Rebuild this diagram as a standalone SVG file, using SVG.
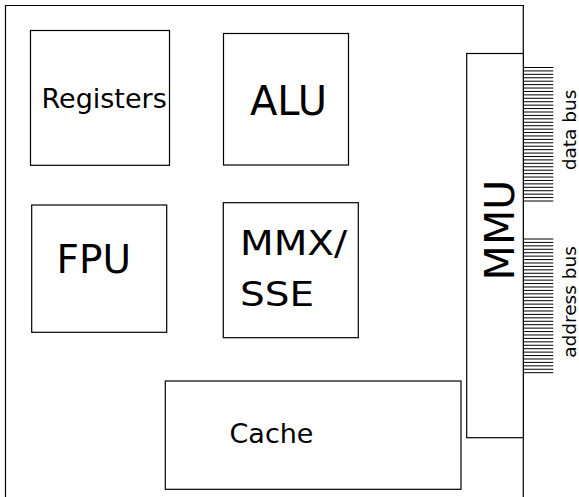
<svg xmlns="http://www.w3.org/2000/svg" width="579" height="497" viewBox="0 0 579 497">
  <style>
    .box { fill: #ffffff; stroke: #000000; stroke-width: 1.2; }
    .lbl { font-family: "DejaVu Sans", "Liberation Sans", sans-serif; fill: #000000; }
    .bus { fill: none; stroke: #000000; stroke-width: 1; }
  </style>
  <rect width="579" height="497" fill="#ffffff"/>

  <!-- CPU die outline (open at the bottom) -->
  <g id="cpu">
    <path d="M5.5 497 V5.5 H523.3 V497" fill="none" stroke="#000000" stroke-width="1.2"/>
  </g>

  <g id="registers">
    <rect class="box" x="30.5" y="30.5" width="139" height="134.8"/>
    <text class="lbl" x="41.5" y="108" font-size="27">Registers</text>
  </g>

  <g id="alu">
    <rect class="box" x="223.5" y="33.5" width="125" height="131.5"/>
    <text class="lbl" x="250" y="115" font-size="40">ALU</text>
  </g>

  <g id="fpu">
    <rect class="box" x="31.7" y="205" width="135" height="127.3"/>
    <text class="lbl" x="56.5" y="273.3" font-size="39">FPU</text>
  </g>

  <g id="mmx-sse">
    <rect class="box" x="223.3" y="202.7" width="135" height="135"/>
    <text class="lbl" font-size="39" transform="translate(240,255) scale(1,0.87)">
      <tspan x="0" y="0">MMX/</tspan>
      <tspan x="0" y="59">SSE</tspan>
    </text>
  </g>

  <g id="cache">
    <rect class="box" x="165.3" y="381" width="295.7" height="108.3"/>
    <text class="lbl" x="229.5" y="443" font-size="27">Cache</text>
  </g>

  <g id="mmu">
    <rect class="box" x="466.7" y="53.5" width="56.6" height="384.2"/>
    <text class="lbl" font-size="41" text-anchor="middle" transform="translate(514,230) rotate(-90)">MMU</text>
  </g>

  <!-- bus lines leaving the MMU -->
  <g id="connectors">
    <path class="bus" d="M523.3 67.5h30 M523.3 70.92h30 M523.3 74.35h30 M523.3 77.77h30 M523.3 81.19h30 M523.3 84.62h30 M523.3 88.04h30 M523.3 91.46h30 M523.3 94.88h30 M523.3 98.31h30 M523.3 101.73h30 M523.3 105.15h30 M523.3 108.58h30 M523.3 112h30 M523.3 115.42h30 M523.3 118.85h30 M523.3 122.27h30 M523.3 125.69h30 M523.3 129.11h30 M523.3 132.54h30 M523.3 135.96h30 M523.3 139.38h30 M523.3 142.81h30 M523.3 146.23h30 M523.3 149.65h30 M523.3 153.08h30 M523.3 156.5h30 M523.3 159.92h30 M523.3 163.34h30 M523.3 166.77h30 M523.3 170.19h30 M523.3 173.61h30 M523.3 177.04h30 M523.3 180.46h30 M523.3 183.88h30 M523.3 187.31h30 M523.3 190.73h30 M523.3 194.15h30 M523.3 197.57h30 M523.3 201h30"/>
    <path class="bus" d="M523.3 239h30 M523.3 242.43h30 M523.3 245.86h30 M523.3 249.28h30 M523.3 252.71h30 M523.3 256.14h30 M523.3 259.57h30 M523.3 263h30 M523.3 266.42h30 M523.3 269.85h30 M523.3 273.28h30 M523.3 276.71h30 M523.3 280.14h30 M523.3 283.56h30 M523.3 286.99h30 M523.3 290.42h30 M523.3 293.85h30 M523.3 297.28h30 M523.3 300.7h30 M523.3 304.13h30 M523.3 307.56h30 M523.3 310.99h30 M523.3 314.42h30 M523.3 317.84h30 M523.3 321.27h30 M523.3 324.7h30 M523.3 328.13h30 M523.3 331.56h30 M523.3 334.98h30 M523.3 338.41h30 M523.3 341.84h30 M523.3 345.27h30 M523.3 348.7h30 M523.3 352.12h30 M523.3 355.55h30 M523.3 358.98h30 M523.3 362.41h30 M523.3 365.84h30 M523.3 369.26h30 M523.3 372.7h30"/>
  </g>

  <g id="bus-labels">
    <text class="lbl" font-size="18.5" text-anchor="middle" transform="translate(575.5,130) rotate(-90)">data bus</text>
    <text class="lbl" font-size="18.5" text-anchor="middle" transform="translate(575.5,302) rotate(-90)">address bus</text>
  </g>
</svg>
